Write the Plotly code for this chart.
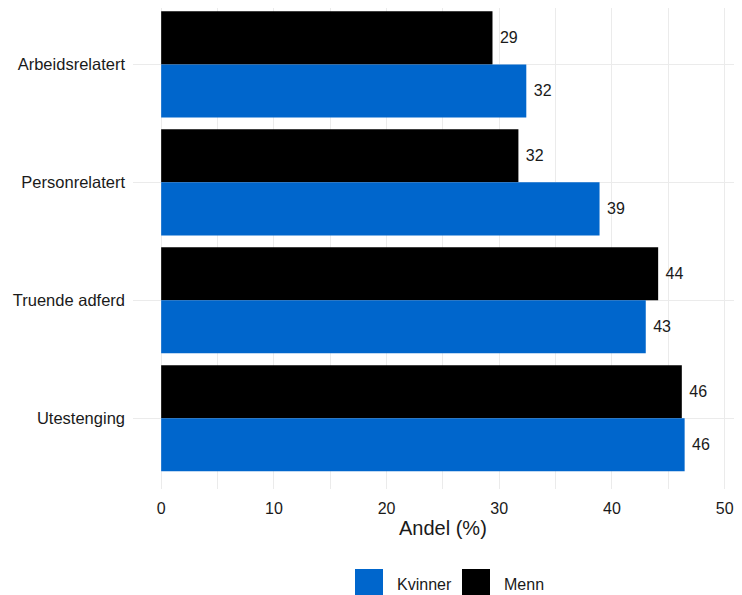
import plotly.graph_objects as go

# ---- data ----
categories = ["Arbeidsrelatert", "Personrelatert", "Truende adferd", "Utestenging"]
menn = [29.4, 31.7, 44.1, 46.2]
kvinner = [32.4, 38.9, 43.0, 46.45]
x_ticks = [0, 10, 20, 30, 40, 50]
series_names = ["Kvinner", "Menn"]
axis_title = "Andel (%)"

# ---- style ----
color_kvinner = "#0066CC"
color_menn = "#000000"
grid_color = "#EBEBEB"
text_color = "#1A1A1A"
font_family = "Liberation Sans, Arial, sans-serif"

# the page body has an 8px default margin; size the figure so it fills the window
OFF = 8
W, H = 742 - OFF, 595 - OFF
ML, MR, MT, MB = 133 - OFF, 0, 0, 106
plot_w = W - ML - MR
plot_h = H - MT - MB


def px_x(p):  # page pixel -> paper x
    return (p - OFF - ML) / plot_w


def px_y(p):  # page pixel -> paper y
    return 1 - (p - OFF - MT) / plot_h


fig = go.Figure()
for name, vals, col in [("Menn", menn, color_menn), ("Kvinner", kvinner, color_kvinner)]:
    fig.add_trace(go.Bar(
        y=categories, x=vals, orientation="h", name=name,
        marker=dict(color=col, line=dict(width=0)),
        texttemplate="&nbsp;%{x:.0f}", textposition="outside",
        textfont=dict(size=16, color=text_color, family=font_family),
        cliponaxis=False, showlegend=False,
    ))

fig.update_layout(
    width=W, height=H,
    margin=dict(l=ML, r=MR, t=MT, b=MB, pad=0, autoexpand=False),
    paper_bgcolor="white", plot_bgcolor="white",
    barmode="group", bargap=0.1, bargroupgap=0,
    font=dict(family=font_family, size=16, color=text_color),
    showlegend=False,
)
fig.update_xaxes(
    range=[-2.5, 51.54], tickvals=x_ticks, ticktext=[str(v) for v in x_ticks],
    showgrid=True, gridcolor=grid_color, gridwidth=1.1,
    minor=dict(dtick=5, tick0=0, showgrid=True, gridcolor=grid_color, gridwidth=0.6),
    zeroline=False, showline=False, ticks="", automargin=False,
    ticklabelstandoff=8,
    tickfont=dict(size=16, color=text_color),
)
fig.update_yaxes(
    type="category", categoryorder="array", categoryarray=categories,
    range=[3.6, -0.478],
    showgrid=True, gridcolor=grid_color, gridwidth=1.1,
    zeroline=False, showline=False, ticks="", automargin=False,
    ticklabelstandoff=7,
    tickfont=dict(size=16.5, color=text_color),
)

# axis title
fig.add_annotation(text=axis_title, xref="paper", yref="paper",
                   x=px_x(443), y=px_y(528), showarrow=False,
                   font=dict(size=20, color=text_color), xanchor="center", yanchor="middle")

# legend (drawn manually to match the large key squares)
legend_items = [(series_names[0], color_kvinner, 355, 395), (series_names[1], color_menn, 462, 502)]
for label, col, key_left, text_left in legend_items:
    fig.add_shape(type="rect", xref="paper", yref="paper",
                  x0=px_x(key_left), x1=px_x(key_left + 28),
                  y0=px_y(569), y1=px_y(600), fillcolor=col, line=dict(width=0))
    fig.add_annotation(text=label, xref="paper", yref="paper",
                       x=px_x(text_left), y=px_y(584), showarrow=False,
                       font=dict(size=16, color=text_color), xanchor="left", yanchor="middle")

fig.write_html("out.html")
